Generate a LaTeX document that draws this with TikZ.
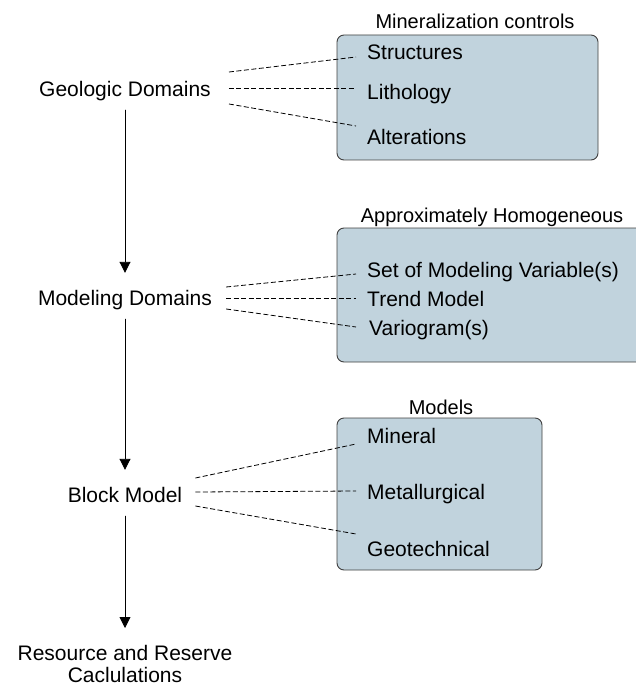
\documentclass[tikz,border=0pt]{standalone}
\usepackage{fontspec}
\setmainfont{Liberation Sans}
\usetikzlibrary{arrows.meta}
\definecolor{boxfill}{RGB}{193,211,221}
\begin{document}
\begin{tikzpicture}[x=1pt, y=-1pt, font=\fontsize{21}{23}\selectfont, line join=round, line cap=round, >={Triangle[width=11pt,length=11pt]},
	stage/.style={text height=15.5pt, text depth=4.5pt, inner xsep=0pt, inner ysep=9pt},
	item/.style={anchor=west, text height=15.5pt, text depth=4.5pt, inner xsep=11pt, inner ysep=0pt},
	title/.style={font=\fontsize{20}{22}\selectfont, text height=15pt, text depth=4.5pt, inner sep=0pt},
	ctrlbox/.style={draw=black!75, fill=boxfill, rounded corners=7pt, line width=0.9pt, inner sep=0pt},
	link/.style={dash pattern=on 5pt off 2.5pt, line width=0.8pt, line cap=butt},
	flow/.style={->, line width=0.9pt, shorten >=8pt}]
	\useasboundingbox (0,0) rectangle (636,687);
	% control boxes
	\node[ctrlbox, minimum width=261pt, minimum height=125pt] (minbox) at (467.5,97.5) {};
	\node[ctrlbox, minimum width=308pt, minimum height=134pt] (homobox) at (491,295) {};
	\node[ctrlbox, minimum width=205pt, minimum height=152pt] (modbox) at (439.5,494) {};
	\node[title] (minttl) at (475,23) {Mineralization controls};
	\node[title] (homottl) at (492,217.5) {Approximately Homogeneous};
	\node[title] (modttl) at (441,409) {Models};
	% main stages
	\node[stage] (geo) at (125,91) {Geologic Domains};
	\node[stage] (modl) at (125,300) {Modeling Domains};
	\node[stage] (block) at (125,497) {Block Model};
	\node[align=center, inner xsep=0pt, inner ysep=11pt, anchor=north, font=\fontsize{21}{22.5}\selectfont] (res) at (125,634) {Resource and Reserve\\Caclulations};
	\draw[flow] (geo.south) -- (modl.north);
	\draw[flow] (modl.south) -- (block.north);
	\draw[flow, shorten >=6pt] (block.south) -- (res.north);
	% items
	\node[item] (struct) at (356,54) {Structures};
	\node[item] (litho) at (356,94) {Lithology};
	\node[item] (alter) at (356,139) {Alterations};
	\node[item] (vars) at (356,272) {Set of Modeling Variable(s)};
	\node[item] (trend) at (356,301) {Trend Model};
	\node[item] (vario) at (358,330) {Variogram(s)};
	\node[item] (miner) at (356,438) {Mineral};
	\node[item] (metal) at (356,493.5) {Metallurgical};
	\node[item] (geotech) at (356,550.5) {Geotechnical};
	% dashed links
	\draw[link] ([xshift=18pt,yshift=19pt]geo.east) -- ([yshift=-3pt]struct.west);
	\draw[link] ([xshift=18pt,yshift=3pt]geo.east) -- ([yshift=6pt]litho.west);
	\draw[link] ([xshift=18pt,yshift=-13pt]geo.east) -- ([yshift=13pt]alter.west);
	\draw[link] ([xshift=14pt,yshift=13pt]modl.east) -- ([yshift=-2pt]vars.west);
	\draw[link] ([xshift=14pt,yshift=2pt]modl.east) -- ([yshift=3pt]trend.west);
	\draw[link] ([xshift=14pt,yshift=-9pt]modl.east) -- ([xshift=-2pt,yshift=3pt]vario.west);
	\draw[link] ([xshift=13pt,yshift=19pt]block.east) -- ([yshift=-6pt]miner.west);
	\draw[link] ([xshift=13pt,yshift=5pt]block.east) -- ([yshift=2.5pt]metal.west);
	\draw[link] ([xshift=13pt,yshift=-9pt]block.east) -- ([yshift=16.5pt]geotech.west);
\end{tikzpicture}
\end{document}
